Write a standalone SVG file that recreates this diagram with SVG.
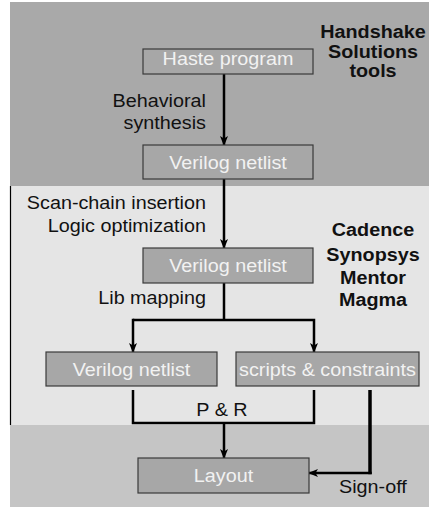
<svg xmlns="http://www.w3.org/2000/svg" width="429" height="508" viewBox="0 0 429 508">
  <style>
    .txt { font-family: "Liberation Sans", Arial, Helvetica, sans-serif; font-size: 18.5px; fill: #111; }
    .bold { font-weight: bold; }
    .box { fill: #a7a7a7; stroke: #3a3a3a; stroke-width: 1.2; }
    .boxtxt { font-family: "Liberation Sans", Arial, Helvetica, sans-serif; font-size: 18.5px; fill: #f2f2f2; text-anchor: middle; }
    .wire { fill: none; stroke: #000; stroke-width: 2.5; stroke-linejoin: miter; stroke-linecap: butt; }
  </style>
  <defs>
    <marker id="arrow" viewBox="0 0 10 8" refX="9" refY="4" markerWidth="10" markerHeight="8" markerUnits="userSpaceOnUse" orient="auto">
      <path d="M0,0 L10,4 L0,8 L2.5,4 z" fill="#000"/>
    </marker>
  </defs>

  <!-- tool-domain bands -->
  <g id="bands">
    <rect x="0" y="0" width="429" height="508" fill="#ffffff"/>
    <rect x="10" y="2" width="419" height="184" fill="#a9a9a9"/>
    <rect x="10" y="186" width="419" height="239" fill="#e5e5e5"/>
    <rect x="10" y="425" width="419" height="82" fill="#c5c5c5"/>
    <line x1="10.5" y1="186" x2="10.5" y2="425" stroke="#000" stroke-width="1.2"/>
  </g>

  <!-- band labels -->
  <g id="label-handshake">
    <text class="txt bold" text-anchor="middle" transform="matrix(1.07,0,0,1,373,38)">Handshake</text>
    <text class="txt bold" text-anchor="middle" transform="matrix(1.07,0,0,1,373,57.5)">Solutions</text>
    <text class="txt bold" text-anchor="middle" transform="matrix(1.07,0,0,1,373,77)">tools</text>
  </g>
  <g id="label-vendors">
    <text class="txt bold" text-anchor="middle" transform="matrix(1.07,0,0,1,373,236)">Cadence</text>
    <text class="txt bold" text-anchor="middle" transform="matrix(1.07,0,0,1,373,261)">Synopsys</text>
    <text class="txt bold" text-anchor="middle" transform="matrix(1.07,0,0,1,373,284)">Mentor</text>
    <text class="txt bold" text-anchor="middle" transform="matrix(1.07,0,0,1,373,306)">Magma</text>
  </g>

  <!-- connectors -->
  <g id="connectors">
    <line class="wire" x1="224" y1="74" x2="224" y2="145" marker-end="url(#arrow)"/>
    <line class="wire" x1="224" y1="179" x2="224" y2="248" marker-end="url(#arrow)"/>
    <path class="wire" d="M224,283 V320"/>
    <path class="wire" d="M133,320 H314 V352" marker-end="url(#arrow)"/>
    <line class="wire" x1="133" y1="318.75" x2="133" y2="352" marker-end="url(#arrow)"/>
    <path class="wire" d="M133,390 V423 H314 V390"/>
    <line class="wire" x1="224" y1="423" x2="224" y2="458" marker-end="url(#arrow)"/>
    <path d="M370,390 V474.2" fill="none" stroke="#000" stroke-width="3.5"/>
    <line class="wire" x1="371.7" y1="473" x2="309" y2="473" marker-end="url(#arrow)"/>
  </g>

  <!-- connector labels -->
  <g id="edge-labels">
    <text class="txt" text-anchor="end" transform="matrix(1.07,0,0,1,206,107)">Behavioral</text>
    <text class="txt" text-anchor="end" transform="matrix(1.07,0,0,1,206,128.5)">synthesis</text>
    <text class="txt" text-anchor="end" transform="matrix(1.07,0,0,1,206,208.5)">Scan-chain insertion</text>
    <text class="txt" text-anchor="end" transform="matrix(1.07,0,0,1,206,231.5)">Logic optimization</text>
    <text class="txt" text-anchor="end" transform="matrix(1.07,0,0,1,206,304)">Lib mapping</text>
    <text class="txt" text-anchor="middle" transform="matrix(1.07,0,0,1,222,416)">P &amp; R</text>
    <text class="txt" text-anchor="start" transform="matrix(1.07,0,0,1,339,492.5)">Sign-off</text>
  </g>

  <!-- nodes -->
  <g id="haste-program">
    <rect class="box" x="143" y="49" width="170" height="25"/>
    <text class="boxtxt" transform="matrix(1.07,0,0,1,228,65)">Haste program</text>
  </g>
  <g id="verilog-netlist-1">
    <rect class="box" x="143" y="145" width="170" height="34"/>
    <text class="boxtxt" transform="matrix(1.07,0,0,1,228,168.5)">Verilog netlist</text>
  </g>
  <g id="verilog-netlist-2">
    <rect class="box" x="143" y="248" width="170" height="35"/>
    <text class="boxtxt" transform="matrix(1.07,0,0,1,228,272)">Verilog netlist</text>
  </g>
  <g id="verilog-netlist-3">
    <rect class="box" x="46" y="352" width="171" height="34"/>
    <text class="boxtxt" transform="matrix(1.07,0,0,1,131.5,375.5)">Verilog netlist</text>
  </g>
  <g id="scripts-constraints">
    <rect class="box" x="236" y="352" width="183" height="34"/>
    <text class="boxtxt" transform="matrix(1.07,0,0,1,327.5,375.5)">scripts &amp; constraints</text>
  </g>
  <g id="layout">
    <rect class="box" x="138" y="458" width="171" height="35"/>
    <text class="boxtxt" transform="matrix(1.07,0,0,1,223.5,482)">Layout</text>
  </g>
</svg>
